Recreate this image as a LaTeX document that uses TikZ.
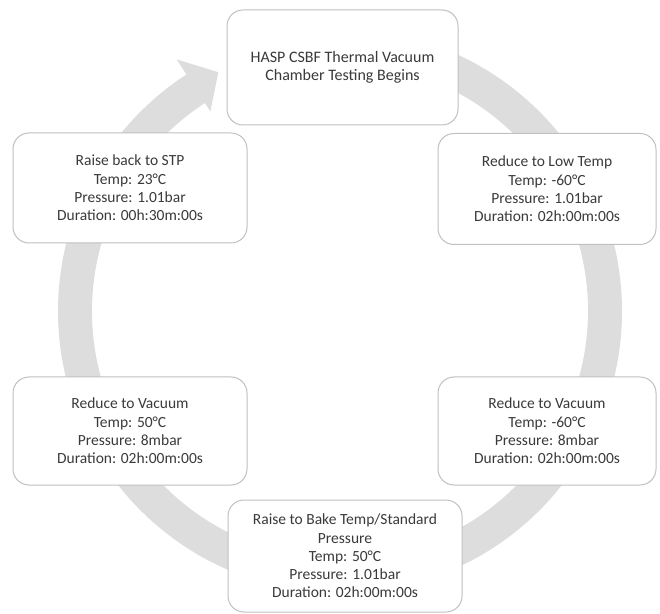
\documentclass[tikz,border=0pt]{standalone}
\usepackage{fontspec}
\setmainfont{Carlito}
\definecolor{ringgray}{HTML}{DDDDDD}
\definecolor{boxline}{HTML}{C0C0C0}
\definecolor{txt}{HTML}{3A3A3A}
\tikzset{
  stepbox/.style={draw=boxline, line width=1pt, fill=white, rounded corners=16pt,
    align=center, text=txt, inner sep=2pt, font=\fontsize{15.5}{18.3}\selectfont},
}
\begin{document}
\begin{tikzpicture}[x=1pt,y=1pt]
\useasboundingbox (0,0) rectangle (660,613);
\begin{scope}[shift={(340,302)}]
\fill[ringgray] (95:282) arc[start angle=95, end angle=-237, radius=282]
  -- (123:300) -- (117:268) -- (123:238) -- (123:248)
  arc[start angle=-237, end angle=95, radius=248] -- cycle;
\end{scope}
\node[stepbox, minimum width=231, minimum height=115, font=\fontsize{16}{17.5}\selectfont] (top) at (342.5,545.5)
  {HASP CSBF Thermal Vacuum\\Chamber Testing Begins};
\node[stepbox, minimum width=218, minimum height=111] (ur) at (547,424)
  {Reduce to Low Temp\\Temp: -60°C\\Pressure: 1.01bar\\Duration: 02h:00m:00s};
\node[stepbox, minimum width=218, minimum height=108] (lr) at (547,182)
  {Reduce to Vacuum\\Temp: -60°C\\Pressure: 8mbar\\Duration: 02h:00m:00s};
\node[stepbox, minimum width=234, minimum height=112] (bot) at (345,57)
  {Raise to Bake Temp/Standard\\Pressure\\Temp: 50°C\\Pressure: 1.01bar\\Duration: 02h:00m:00s};
\node[stepbox, minimum width=234, minimum height=108] (ll) at (130,182)
  {Reduce to Vacuum\\Temp: 50°C\\Pressure: 8mbar\\Duration: 02h:00m:00s};
\node[stepbox, minimum width=234, minimum height=110] (ul) at (130,425)
  {Raise back to STP\\Temp: 23°C\\Pressure: 1.01bar\\Duration: 00h:30m:00s};
\end{tikzpicture}
\end{document}
